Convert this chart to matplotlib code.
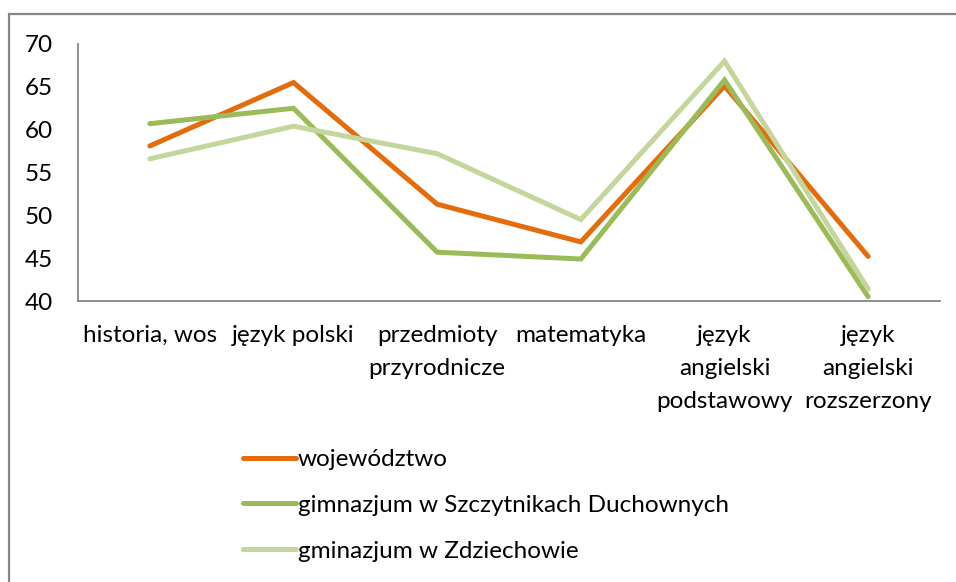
import matplotlib.pyplot as plt
from matplotlib.patches import Rectangle

# dane
przedmioty = ['historia, wos', 'język polski', 'przedmioty\nprzyrodnicze', 'matematyka',
              'język\nangielski\npodstawowy', 'język\nangielski\nrozszerzony']
wojewodztwo = [58.1, 65.5, 51.3, 46.9, 65.1, 45.2]
szczytniki = [60.7, 62.5, 45.7, 44.9, 65.8, 40.5]
zdziechowo = [56.6, 60.4, 57.2, 49.5, 68.0, 41.4]

plt.rcParams['font.family'] = ['Lato', 'DejaVu Sans']

fig = plt.figure(figsize=(9.56, 5.82), dpi=100)
ax = fig.add_axes([78/956, 1-301/582, (940-78)/956, (301-44)/582])

x = range(len(przedmioty))
l1, = ax.plot(x, wojewodztwo, color='#E46C0A', lw=3.6, solid_capstyle='round', solid_joinstyle='miter', label='województwo')
l2, = ax.plot(x, szczytniki, color='#9BBB59', lw=3.6, solid_capstyle='round', solid_joinstyle='miter', label='gimnazjum w Szczytnikach Duchownych')
l3, = ax.plot(x, zdziechowo, color='#C3D69B', lw=3.6, solid_capstyle='round', solid_joinstyle='miter', label='gminazjum w Zdziechowie')

ax.set_xlim(-0.5, len(przedmioty) - 0.5)
ax.set_ylim(40, 70)
ax.set_yticks(range(40, 71, 5))
ax.set_xticks(list(x))
ax.set_xticklabels(przedmioty, linespacing=1.72)
ax.tick_params(axis='y', length=0, pad=18, labelsize=17.5)
ax.tick_params(axis='x', length=0, pad=17, labelsize=17.5)
for s in ['top', 'right']:
    ax.spines[s].set_visible(False)
for s in ['left', 'bottom']:
    ax.spines[s].set_color('#868686')
    ax.spines[s].set_linewidth(1.3)

fig.legend(handles=[l1, l2, l3], loc='upper left', bbox_to_anchor=(243/956, 1-449/582),
           frameon=False, fontsize=17.5, handlelength=2.2, handletextpad=0.05,
           labelspacing=1.02, borderpad=0, borderaxespad=0)

# ramka wykresu
fig.patches.append(Rectangle((9/956, -0.1), 1.2, 1-14/582+0.1, transform=fig.transFigure,
                             fill=False, edgecolor='#868686', lw=1.6))

fig.savefig('out.png', dpi=100)
